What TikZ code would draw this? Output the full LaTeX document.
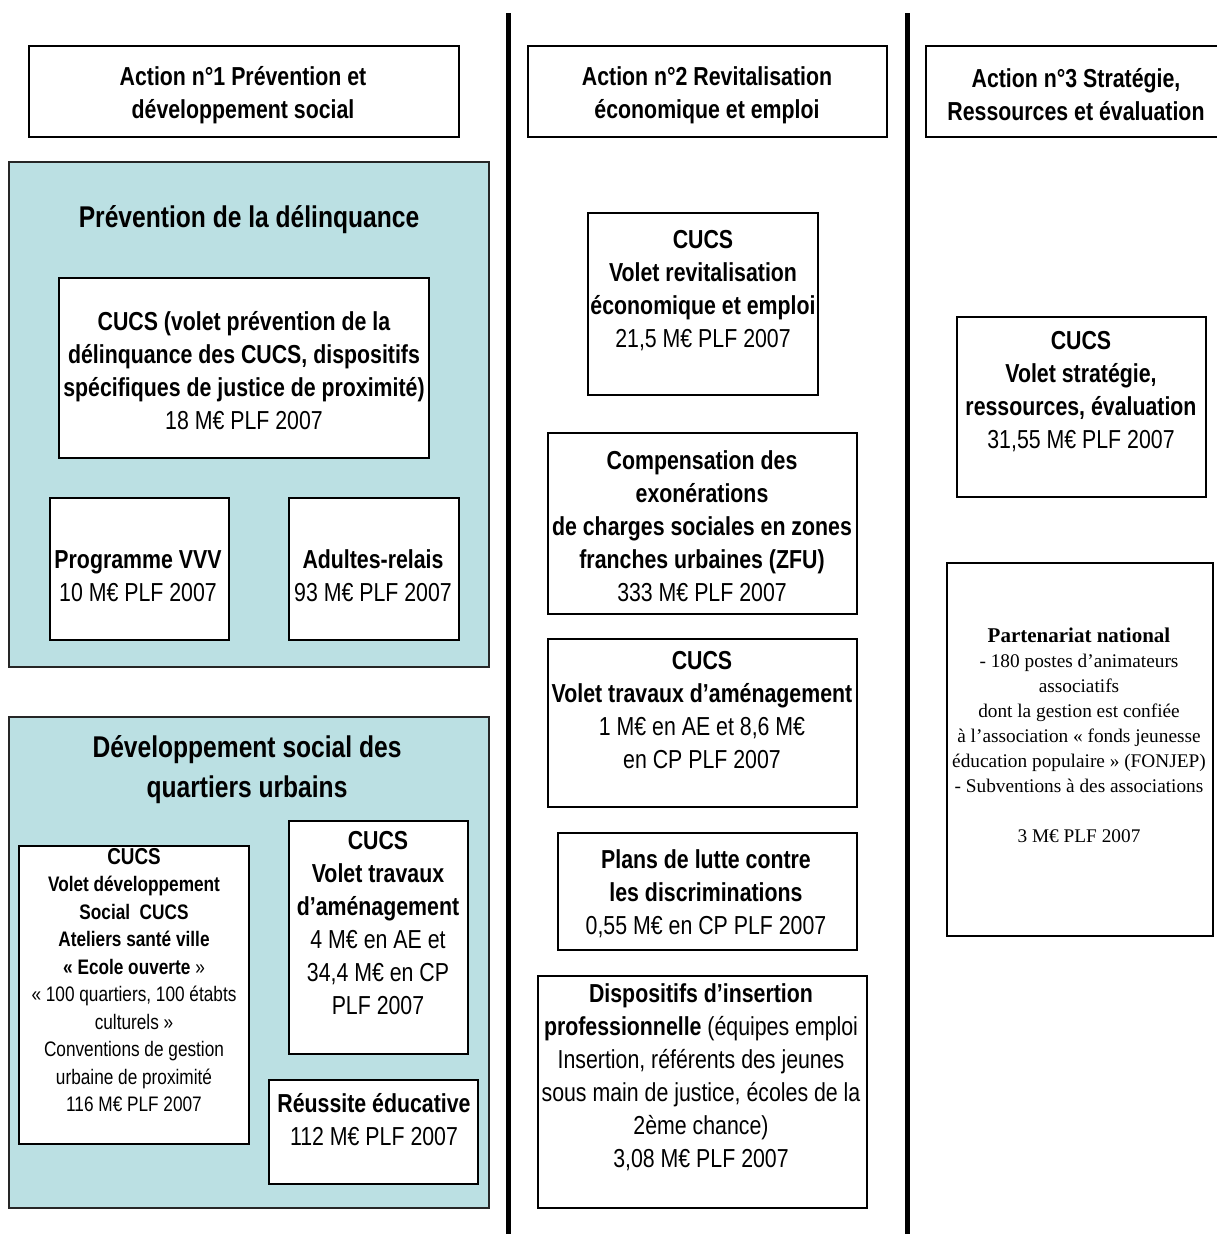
\documentclass[tikz,border=0pt]{standalone}
\usepackage{fontspec}
\newfontfamily\narrowsans{Liberation Sans}[FakeStretch=0.82]
\newfontfamily\serifface{Liberation Serif}
\definecolor{panelteal}{RGB}{187,224,227}

\tikzset{
  frame/.style={draw=black, line width=1.2pt, fill=white, inner sep=0pt, outer sep=0pt, anchor=north west},
  panel/.style={draw=black!85, line width=1.8pt, fill=panelteal, inner sep=0pt, outer sep=0pt, anchor=north west},
  lbl/.style={align=center, inner sep=0pt, font=\narrowsans\fontsize{26}{33}\selectfont},
  lblhead/.style={align=center, inner sep=0pt, font=\narrowsans\bfseries\fontsize{26}{33}\selectfont},
  lblsmall/.style={align=center, inner sep=0pt, font=\narrowsans\fontsize{21}{27.5}\selectfont},
  lbltitle/.style={align=center, inner sep=0pt, font=\narrowsans\bfseries\fontsize{30}{40}\selectfont},
  lblserif/.style={align=center, inner sep=0pt, font=\serifface\fontsize{19.3}{25}\selectfont},
  divider/.style={line width=5pt, draw=black}
}

\begin{document}
\begin{tikzpicture}[x=1pt, y=-1pt]
  % page
  \fill[white] (0,0) rectangle (1216,1234);
  \useasboundingbox (0,0) rectangle (1216,1234);

  % column dividers
  \coordinate (d1top) at (508,13);
  \coordinate (d1bot) at (508,1234);
  \coordinate (d2top) at (907,13);
  \coordinate (d2bot) at (907,1234);
  \draw[divider] (d1top) -- (d1bot);
  \draw[divider] (d2top) -- (d2bot);

  % ---- action headers ----
  \node[frame, minimum width=430pt, minimum height=91pt] (act1) at (29,46) {};
  \node[lblhead] (act1t) at (243,95)
    {Action n°1 Prévention et\\développement social};

  \node[frame, minimum width=359pt, minimum height=91pt] (act2) at (528,46) {};
  \node[lblhead] (act2t) at (707,95)
    {Action n°2 Revitalisation\\économique et emploi};

  \node[frame, minimum width=300pt, minimum height=91pt] (act3) at (926,46) {};
  \node[lblhead] (act3t) at (1076,95)
    {Action n°3 Stratégie,\\Ressources et évaluation};

  % ---- column 1: prévention de la délinquance ----
  \node[panel, minimum width=480pt, minimum height=505pt] (prev) at (9,162) {};
  \node[lbltitle] (prevt) at (249,220) {Prévention de la délinquance};

  \node[frame, minimum width=370pt, minimum height=180pt] (cucsprev) at (59,278) {};
  \node[lbl] (cucsprevt) at (244,371)
    {\textbf{CUCS (volet prévention de la}\\
     \textbf{délinquance des CUCS, dispositifs}\\
     \textbf{spécifiques de justice de proximité)}\\
     18 M€ PLF 2007};

  \node[frame, minimum width=179pt, minimum height=142pt] (vvv) at (50,498) {};
  \node[lbl] (vvvt) at (138,576)
    {\textbf{Programme VVV}\\10 M€ PLF 2007};

  \node[frame, minimum width=170pt, minimum height=142pt] (adultes) at (289,498) {};
  \node[lbl] (adultest) at (373,576)
    {\textbf{Adultes-relais}\\93 M€ PLF 2007};

  % ---- column 1: développement social ----
  \node[panel, minimum width=480pt, minimum height=491pt] (devsoc) at (9,717) {};
  \node[lbltitle] (devsoct) at (247,770) {Développement social des\\quartiers urbains};

  \node[frame, minimum width=230pt, minimum height=298pt] (cucsdev) at (19,846) {};
  \node[lblsmall] (cucsdevt) at (134,980)
    {{\fontsize{23}{27.5}\selectfont\textbf{CUCS}}\\
     \textbf{Volet développement}\\
     \textbf{Social\ \ CUCS}\\
     \textbf{Ateliers santé ville}\\
     \textbf{« Ecole ouverte} »\\
     « 100 quartiers, 100 étabts\\
     culturels »\\
     Conventions de gestion\\
     urbaine de proximité\\
     116 M€ PLF 2007};

  \node[frame, minimum width=179pt, minimum height=233pt] (travg) at (289,821) {};
  \node[lbl] (travgt) at (378,923)
    {\textbf{CUCS}\\
     \textbf{Volet travaux}\\
     \textbf{d’aménagement}\\
     4 M€ en AE et\\
     34,4 M€ en CP\\
     PLF 2007};

  \node[frame, minimum width=209pt, minimum height=104pt] (reussite) at (269,1080) {};
  \node[lbl] (reussitet) at (374,1120)
    {\textbf{Réussite éducative}\\112 M€ PLF 2007};

  % ---- column 2 ----
  \node[frame, minimum width=230pt, minimum height=182pt] (revit) at (588,213) {};
  \node[lbl] (revitt) at (703,291)
    {\textbf{CUCS}\\
     \textbf{Volet revitalisation}\\
     \textbf{économique et emploi}\\
     21,5 M€ PLF 2007};

  \node[frame, minimum width=309pt, minimum height=181pt] (zfu) at (548,433) {};
  \node[lbl] (zfut) at (702,526)
    {\textbf{Compensation des}\\
     \textbf{exonérations}\\
     \textbf{de charges sociales en zones}\\
     \textbf{franches urbaines (ZFU)}\\
     333 M€ PLF 2007};

  \node[frame, minimum width=309pt, minimum height=168pt] (travm) at (548,639) {};
  \node[lbl] (travmt) at (702,710)
    {\textbf{CUCS}\\
     \textbf{Volet travaux d’aménagement}\\
     1 M€ en AE et 8,6 M€\\
     en CP PLF 2007};

  \node[frame, minimum width=299pt, minimum height=117pt] (plans) at (558,833) {};
  \node[lbl] (planst) at (706,894)
    {\textbf{Plans de lutte contre}\\
     \textbf{les discriminations}\\
     0,55 M€ en CP PLF 2007};

  \node[frame, minimum width=329pt, minimum height=232pt] (insert) at (538,976) {};
  \node[lbl] (insertt) at (701,1077)
    {\textbf{Dispositifs d’insertion}\\
     \textbf{professionnelle} (équipes emploi\\
     Insertion, référents des jeunes\\
     sous main de justice, écoles de la\\
     2ème chance)\\
     3,08 M€ PLF 2007};

  % ---- column 3 ----
  \node[frame, minimum width=249pt, minimum height=180pt] (strat) at (957,317) {};
  \node[lbl] (stratt) at (1081,392)
    {\textbf{CUCS}\\
     \textbf{Volet stratégie,}\\
     \textbf{ressources, évaluation}\\
     31,55 M€ PLF 2007};

  \node[frame, minimum width=266pt, minimum height=373pt] (parten) at (947,563) {};
  \node[lblserif] (partent) at (1079,735)
    {{\fontsize{21}{25}\selectfont\textbf{Partenariat national}}\\
     - 180 postes d’animateurs\\
     associatifs\\
     dont la gestion est confiée\\
     à l’association « fonds jeunesse\\
     éducation populaire » (FONJEP)\\
     - Subventions à des associations\\[25pt]
     3 M€ PLF 2007};
\end{tikzpicture}
\end{document}
